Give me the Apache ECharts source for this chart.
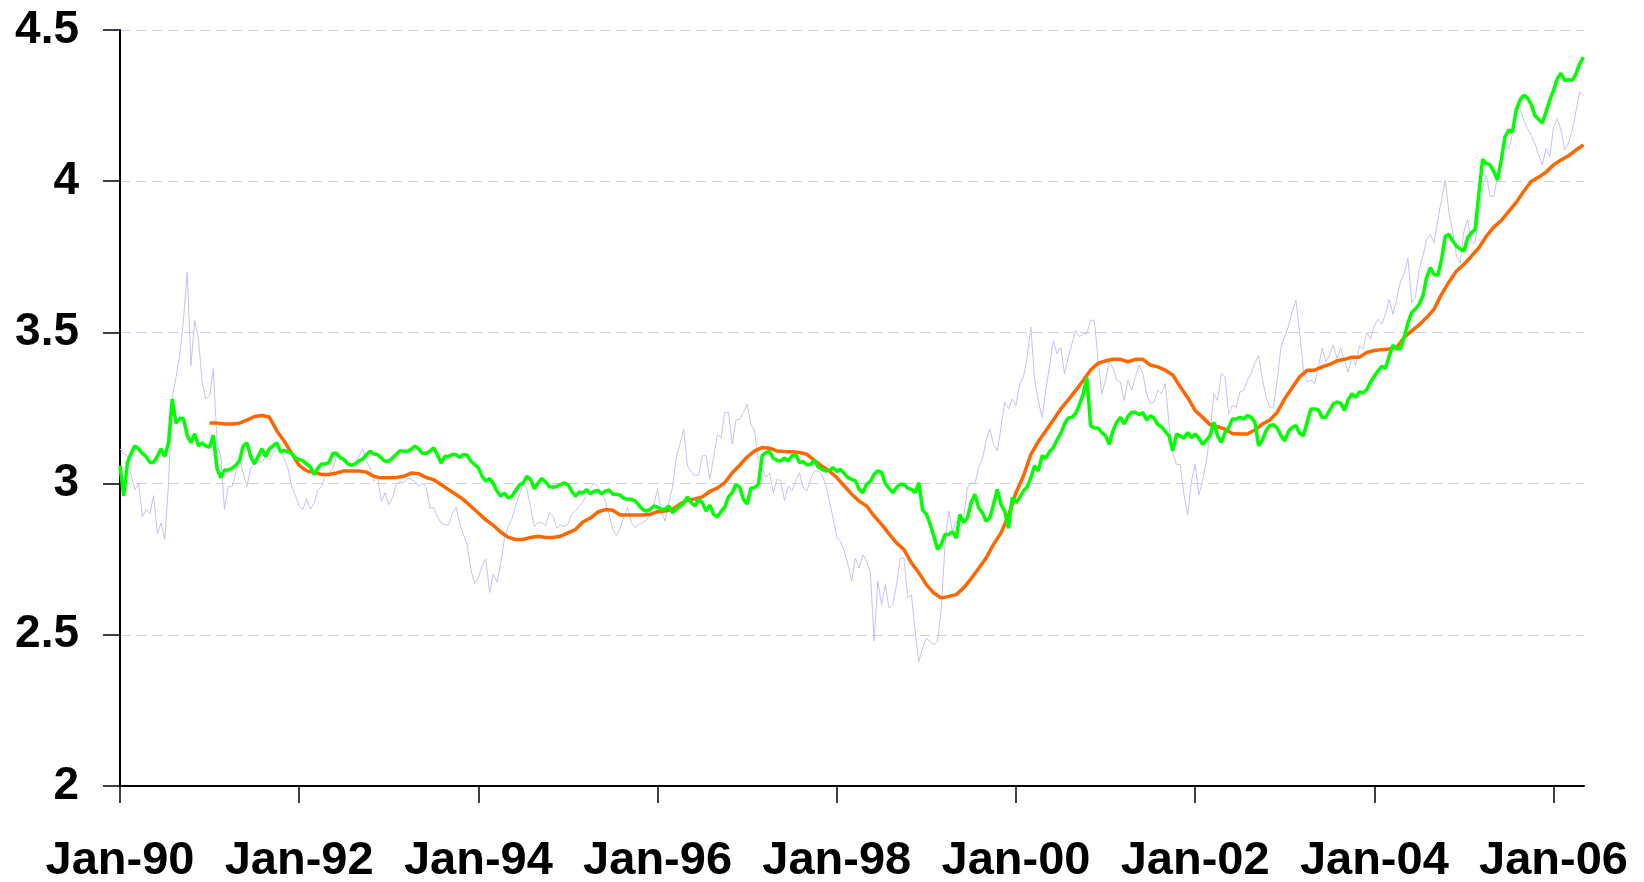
<!DOCTYPE html>
<html><head><meta charset="utf-8">
<script src="https://cdn.jsdelivr.net/npm/echarts@6/dist/echarts.min.js"></script>
<style>html,body{margin:0;padding:0;background:#fff}#c{width:1644px;height:882px}</style>
</head><body><div id="c"></div>
<script>
// x axis: years as decimal values; tick labels "Jan-YY"
const startYear = 1990;
const xTickYears = [1990, 1992, 1994, 1996, 1998, 2000, 2002, 2004, 2006];
const yMin = 2, yMax = 4.5, yStep = 0.5;

// light blue: raw series, sampled twice a month from Jan-1990
const rawSeries = [
3.115,3.10,3.09,3.025,2.98,3.00,2.89,2.915,2.90,2.96,
2.835,2.87,2.815,3.00,3.29,3.35,3.425,3.54,3.70,3.39,
3.54,3.48,3.335,3.28,3.29,3.38,3.135,3.09,2.915,2.99,
2.99,3.035,3.08,3.035,2.99,3.05,3.065,3.075,3.07,3.09,
3.08,3.10,3.115,3.11,3.08,3.05,2.99,2.96,2.925,2.915,
2.95,2.915,2.935,2.98,2.99,3.025,3.035,3.05,3.09,3.10,
3.07,3.065,3.065,3.07,3.09,3.115,
3.074,3.052,3.008,3.019,
2.942,2.969,2.93,2.953,2.997,3.008,3.002,3.019,3.013,3.008,
2.991,3.002,2.988,2.92,2.92,2.892,2.87,2.864,2.864,2.90,
2.922,2.87,2.831,2.798,2.715,2.67,2.688,2.73,2.75,2.64,
2.70,2.675,2.74,2.82,2.858,2.884,2.93,2.964,2.995,2.984,
2.92,2.858,2.872,2.87,2.862,2.903,2.892,2.853,2.862,2.858,
2.866,2.899,2.91,2.924,2.94,2.964,2.986,3.001,2.991,2.966,
2.944,2.897,
2.849,2.827,2.854,2.893,2.921,2.871,2.854,2.865,
2.871,2.879,2.898,2.932,2.981,2.909,2.876,2.937,2.987,3.086,
3.13,3.18,3.058,3.04,3.025,3.029,3.092,3.092,3.014,3.086,
3.163,3.152,3.235,3.235,3.13,3.21,3.213,3.235,3.263,3.196,
3.174,3.075,3.053,3.02,3.036,2.97,3.014,3.009,2.943,2.992,
2.976,3.009,3.036,2.987,2.976,3.014,3.042,3.042,3.031,2.998,
2.943,2.887,2.821,2.81,2.777,2.733,2.678,
2.754,2.721,2.765,
2.743,2.705,2.48,2.677,2.60,2.666,2.588,2.60,2.666,2.754,
2.754,2.622,2.633,2.511,2.412,2.456,2.489,2.478,2.467,2.478,
2.588,2.799,2.909,2.843,2.876,2.843,2.887,2.987,3.003,2.998,
3.053,3.081,3.142,3.18,3.13,3.108,3.186,3.269,3.247,3.28,
3.258,3.33,3.352,3.418,3.518,3.341,3.274,3.219,3.308,3.39,
3.473,3.429,3.451,3.363,3.418,3.462,3.507,3.485,3.496,3.496,
3.54,3.54,3.407,
3.297,3.342,3.403,3.381,3.342,3.336,3.275,
3.342,3.308,3.353,3.392,3.364,3.297,3.264,3.27,3.308,3.297,
3.331,3.197,3.102,3.063,3.063,2.963,2.896,3.008,3.063,2.963,
3.008,3.075,3.164,3.297,3.275,3.364,3.353,3.23,3.258,3.253,
3.303,3.308,3.342,3.364,3.398,3.425,3.347,3.286,3.253,3.253,
3.342,3.453,3.487,3.52,3.57,3.607,3.498,3.375,3.336,3.342,
3.331,3.386,3.448,3.403,3.425,3.459,3.414,3.448,3.409,
3.368,
3.423,3.39,3.456,3.445,3.50,3.478,3.522,3.544,3.527,3.56,
3.61,3.56,3.61,3.67,3.692,3.747,3.599,3.615,3.708,3.752,
3.807,3.824,3.796,3.873,3.939,4.004,3.895,3.829,3.752,3.73,
3.834,3.873,3.796,3.796,3.884,3.982,4.021,3.95,3.95,4.015,
4.087,4.125,4.105,4.158,4.235,4.24,4.202,4.174,4.152,4.125,
4.087,4.054,4.109,4.081,4.18,4.207,4.169,4.103,4.125,4.169,
4.229,4.295,4.284
];

// green series, sampled twice a month from Jan-1990
const greenSeries = [
3.06,2.96,3.07,3.10,3.125,3.115,3.10,3.09,3.07,3.07,
3.09,3.115,3.09,3.135,3.28,3.20,3.215,3.215,3.16,3.135,
3.165,3.125,3.135,3.125,3.12,3.16,3.05,3.02,3.045,3.045,
3.05,3.06,3.075,3.125,3.135,3.09,3.065,3.09,3.115,3.09,
3.115,3.125,3.135,3.105,3.11,3.105,3.10,3.085,3.08,3.075,
3.065,3.055,3.03,3.05,3.065,3.065,3.07,3.10,3.10,3.085,
3.08,3.065,3.06,3.065,3.075,3.08,
3.096,3.107,3.098,3.096,
3.085,3.074,3.074,3.085,3.096,3.109,3.107,3.107,3.113,3.124,
3.115,3.10,3.10,3.107,3.118,3.096,3.068,3.09,3.09,3.096,
3.096,3.087,3.096,3.094,3.074,3.063,3.052,3.024,3.008,3.017,
3.00,2.975,2.958,2.969,2.953,2.958,2.977,2.995,3.002,3.024,
3.013,2.983,3.002,3.017,3.006,2.99,2.988,2.991,2.997,3.002,
2.997,2.975,2.958,2.972,2.969,2.98,2.966,2.975,2.977,2.966,
2.975,2.979,
2.965,2.965,2.962,2.951,2.948,2.948,2.943,2.929,
2.915,2.909,2.915,2.926,2.922,2.915,2.915,2.926,2.904,2.915,
2.926,2.934,2.956,2.937,2.926,2.948,2.937,2.909,2.929,2.898,
2.89,2.907,2.922,2.956,2.97,2.998,2.987,2.948,2.932,2.985,
2.987,2.998,3.092,3.103,3.106,3.084,3.077,3.075,3.084,3.075,
3.092,3.097,3.07,3.073,3.062,3.064,3.077,3.055,3.047,3.042,
3.044,3.053,3.04,3.047,3.033,3.02,3.014,
3.009,2.981,2.97,
2.998,3.007,3.031,3.042,3.037,3.00,2.985,2.97,2.987,2.998,
2.998,2.985,2.981,2.97,3.003,2.912,2.90,2.865,2.826,2.782,
2.799,2.832,2.832,2.841,2.82,2.898,2.871,2.887,2.937,2.965,
2.92,2.904,2.876,2.887,2.931,2.981,2.931,2.909,2.852,2.954,
2.937,2.954,2.976,2.989,3.02,3.059,3.042,3.092,3.084,3.106,
3.119,3.144,3.166,3.197,3.217,3.219,3.232,3.261,3.296,3.35,
3.191,3.184,3.184,
3.169,3.158,3.13,3.175,3.203,3.219,3.197,
3.222,3.236,3.236,3.228,3.235,3.21,3.224,3.217,3.195,3.188,
3.173,3.158,3.108,3.164,3.158,3.15,3.169,3.152,3.164,3.15,
3.13,3.144,3.158,3.203,3.158,3.136,3.169,3.186,3.214,3.214,
3.219,3.214,3.225,3.219,3.203,3.125,3.144,3.175,3.192,3.195,
3.184,3.158,3.141,3.173,3.186,3.192,3.166,3.158,3.203,3.247,
3.247,3.244,3.219,3.219,3.242,3.264,3.27,3.266,3.242,
3.278,
3.297,3.286,3.303,3.30,3.311,3.336,3.355,3.373,3.388,3.382,
3.423,3.458,3.445,3.447,3.484,3.531,3.566,3.577,3.593,3.621,
3.681,3.714,3.692,3.689,3.741,3.818,3.824,3.802,3.785,3.776,
3.769,3.813,3.829,3.84,3.96,4.072,4.059,4.054,4.032,4.004,
4.07,4.147,4.169,4.163,4.235,4.268,4.284,4.276,4.254,4.218,
4.204,4.193,4.229,4.268,4.30,4.339,4.357,4.333,4.336,4.333,
4.355,4.388,4.41
];

// orange moving average, monthly from Jan-1991
const avgStartMonth = 12;
const avgSeries = [
3.20,3.20,3.197,3.197,3.20,3.21,3.222,3.225,
3.22,3.175,3.14,3.10,3.06,3.042,3.037,3.03,3.03,3.035,
3.042,3.042,3.042,3.038,3.024,3.019,3.019,3.02,3.024,3.035,
3.033,3.02,3.013,2.997,2.98,2.964,2.947,2.925,2.903,2.88,
2.862,2.84,2.822,2.815,2.815,2.822,2.826,2.822,2.822,2.826,
2.837,2.848,2.873,2.886,2.906,2.914,2.912,2.896,2.896,2.896,
2.896,2.898,2.907,2.909,2.915,2.932,2.945,2.949,2.956,2.974,
2.985,3.003,3.036,3.061,3.088,3.108,3.119,3.117,3.108,3.106,
3.105,3.103,3.097,3.077,3.058,3.042,3.02,2.992,2.965,2.942,
2.926,2.893,2.865,2.834,2.804,2.782,2.738,2.705,2.666,2.638,
2.622,2.627,2.633,2.655,2.686,2.719,2.754,2.799,2.837,2.895,
2.97,3.025,3.097,3.139,3.175,3.21,3.247,3.277,3.308,3.341,
3.376,3.398,3.406,3.411,3.411,3.403,3.411,3.411,3.392,3.386,
3.375,3.359,3.32,3.284,3.242,3.219,3.195,3.188,3.18,3.166,
3.164,3.164,3.177,3.197,3.21,3.236,3.281,3.317,3.353,3.375,
3.375,3.386,3.394,3.406,3.411,3.418,3.418,3.434,3.44,3.443,
3.445,3.451,3.484,3.505,3.525,3.549,3.577,3.626,3.667,3.703,
3.725,3.752,3.78,3.818,3.848,3.87,3.90,3.93,3.966,3.999,
4.013,4.03,4.054,4.07,4.084,4.103,4.12
];

const halfMonthPairs = arr => arr.map((v, i) => [startYear + i / 24, v]);
const monthPairs = (arr, off) => arr.map((v, i) => [startYear + (i + off) / 12, v]);

const FONT = '"Liberation Sans", Arial, sans-serif';
const chart = echarts.init(document.getElementById('c'), null, { renderer: 'canvas' });
chart.setOption({
  animation: false,
  backgroundColor: '#ffffff',
  grid: { left: 120, right: 60, top: 30, bottom: 96, containLabel: false, outerBoundsMode: 'none' },
  xAxis: {
    type: 'value',
    min: startYear,
    max: 2006.34,
    axisLine: { show: true, lineStyle: { color: '#000', width: 2 } },
    axisTick: { show: true, customValues: xTickYears, length: 17, inside: false, lineStyle: { color: '#000', width: 1.5 } },
    axisLabel: {
      show: true, customValues: xTickYears, margin: 52,
      fontFamily: FONT, fontSize: 47, fontWeight: 'bold', color: '#000',
      formatter: v => 'Jan-' + String(Math.round(v) % 100).padStart(2, '0')
    },
    splitLine: { show: false }
  },
  yAxis: {
    type: 'value',
    min: yMin, max: yMax, interval: yStep,
    axisLine: { show: true, lineStyle: { color: '#000', width: 2 } },
    axisTick: { show: true, length: 17, inside: false, lineStyle: { color: '#000', width: 1.5 } },
    axisLabel: { show: true, margin: 41, fontFamily: FONT, fontSize: 46, fontWeight: 'bold', color: '#000' },
    splitLine: { show: true, lineStyle: { color: '#ccccf5', width: 1, type: [10, 6] } }
  },
  series: [
    { name: 'raw', type: 'line', data: halfMonthPairs(rawSeries), showSymbol: false, symbol: 'none',
      lineStyle: { color: '#c4c4f4', width: 1 }, z: 1, silent: true },
    { name: 'average', type: 'line', data: monthPairs(avgSeries, avgStartMonth), showSymbol: false, symbol: 'none',
      lineStyle: { color: '#ff6600', width: 3.5 }, z: 2, silent: true },
    { name: 'green', type: 'line', data: halfMonthPairs(greenSeries), showSymbol: false, symbol: 'none',
      lineStyle: { color: '#00ff00', width: 3.5 }, z: 3, silent: true }
  ]
});
</script>
</body></html>
